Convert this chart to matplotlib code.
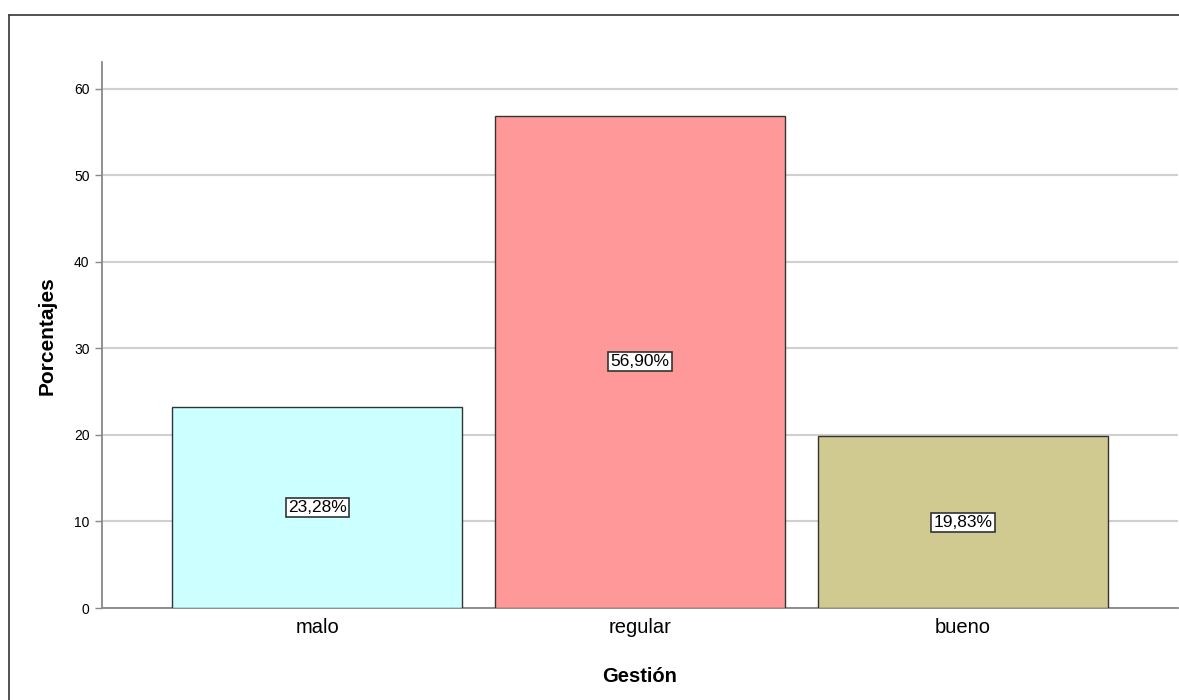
import matplotlib
matplotlib.use("Agg")
import matplotlib.pyplot as plt
from matplotlib.lines import Line2D

categories = ["malo", "regular", "bueno"]
values = [23.28, 56.90, 19.83]
labels = ["23,28%", "56,90%", "19,83%"]
colors = ["#CCFFFF", "#FF9999", "#D0C990"]
yticks = [0, 10, 20, 30, 40, 50, 60]

plt.rcParams['font.family'] = ['Liberation Sans', 'DejaVu Sans']

fig = plt.figure(figsize=(11.79, 7.0), dpi=100)
fx = 8.5/1179
fy = 1 - 14.5/700
fig.add_artist(Line2D([fx, 1.01], [fy, fy], transform=fig.transFigure, color="#444444", linewidth=1.3))
fig.add_artist(Line2D([fx, fx], [-0.01, fy], transform=fig.transFigure, color="#444444", linewidth=1.3))

ax = fig.add_axes([102/1179, 1 - 608/700, (1178-102)/1179, (608-62)/700])

x = list(range(len(categories)))
ax.bar(x, values, width=0.898, color=colors, edgecolor="#333333", linewidth=1.0, zorder=3)
for xi, v, lab in zip(x, values, labels):
    ax.text(xi, v/2, lab, ha="center", va="center", fontsize=12.5, zorder=4,
            bbox=dict(boxstyle="square,pad=0.12", facecolor="white", edgecolor="#333333", linewidth=1.2))

ax.set_xlim(-0.666, 2.666)
ax.set_ylim(0, 63.1)
ax.set_yticks(yticks)
ax.set_yticklabels([str(t) for t in yticks], fontsize=10)
ax.set_xticks(x)
ax.set_xticklabels(categories, fontsize=14.5)
ax.tick_params(axis="x", length=0, pad=7)
ax.tick_params(axis="y", length=5, width=1, color="#888888", pad=4)
ax.grid(axis="y", color="#D0D0D0", linewidth=1.5, zorder=0)
ax.set_axisbelow(True)
for s in ["top", "right"]:
    ax.spines[s].set_visible(False)
for s in ["left", "bottom"]:
    ax.spines[s].set_color("#888888")
    ax.spines[s].set_linewidth(1.3)

fig.text(47/1179, 1 - 336/700, "Porcentajes", rotation=90, ha="center", va="center",
         fontsize=15, fontweight="bold")
fig.text(640/1179, 1 - 676/700, "Gestión", ha="center", va="center",
         fontsize=14.5, fontweight="bold")

fig.savefig("out.png", dpi=100)
